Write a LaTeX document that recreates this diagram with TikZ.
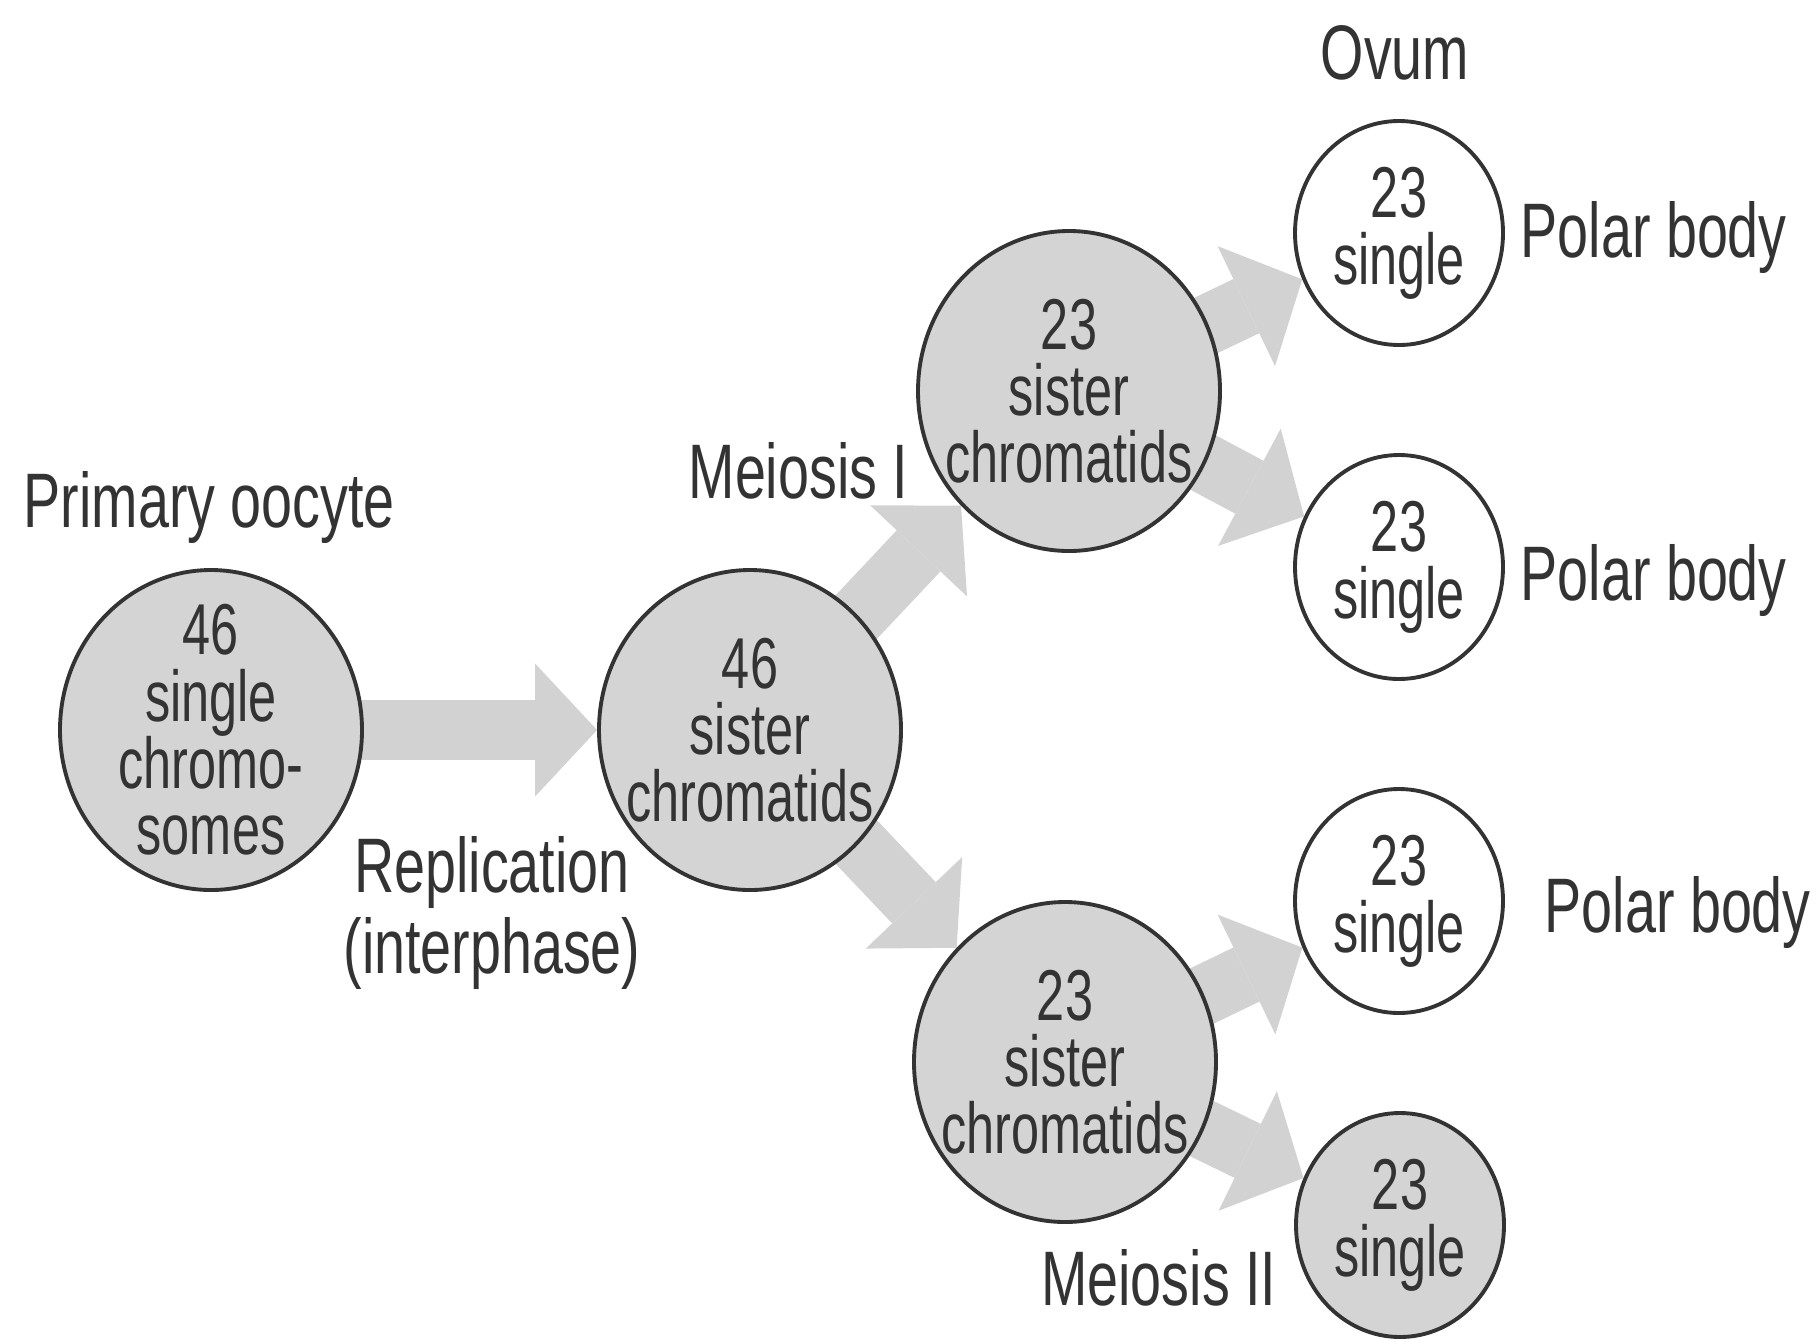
\documentclass[tikz,border=0pt]{standalone}
\usepackage{fontspec}
\usepackage{xcolor}
\usepackage{tikz}
\usetikzlibrary{arrows.meta,positioning,shapes.geometric,backgrounds}

\newfontfamily\cellfont[FakeStretch=0.7]{Liberation Sans}
\newfontfamily\labelfont[FakeStretch=0.72]{Liberation Sans}
\definecolor{cellgray}{HTML}{D4D4D4}
\definecolor{arrowgray}{HTML}{D2D2D2}
\definecolor{inkgray}{HTML}{333333}
\lineskiplimit=-30pt

\begin{document}
\begin{tikzpicture}[x=1cm,y=1cm,
    cell/.style={ellipse,draw=inkgray,line width=1.1pt,fill=cellgray,
      minimum width=3.02cm,minimum height=3.2cm,inner sep=-0.6cm,
      align=center,text=inkgray,font={\cellfont\fontsize{20.5}{19}\selectfont}},
    smallcell/.style={cell,minimum width=2.08cm,minimum height=2.24cm},
    lbl/.style={text=inkgray,inner sep=0pt,font={\labelfont\fontsize{22}{23}\selectfont}},
    blockarrow/.style={draw=arrowgray,line width=0.6cm,
      -{Triangle[width=1.33cm,length=0.62cm,line width=0pt]}}]
  \useasboundingbox (0,0) rectangle (18.16,-13.39);
  % cells before and after replication
  \node[cell] (oocyte) at (2.11,-7.30) {46\\single\\chromo-\\somes};
  \node[cell] (replicated) at (7.50,-7.30) {46\\sister\\chromatids};
  % meiosis I products
  \node[cell] (upper) at (10.69,-3.91) {23\\sister\\chromatids};
  \node[cell] (lower) at (10.65,-10.62) {23\\sister\\chromatids};
  % meiosis II products
  \foreach \i/\y in {1/-2.33,2/-5.67,3/-9.01}
    \node[smallcell,fill=white] (single\i) at (13.99,\y) {23\\single};
  \node[smallcell] (single4) at (14.00,-12.25) {23\\single};
  % arrows behind the cells
  \begin{scope}[on background layer]
    \draw[blockarrow] (oocyte.center) -- (replicated);
    \draw[blockarrow] (replicated.center) -- (upper);
    \draw[blockarrow] (replicated.center) -- (lower);
    \draw[blockarrow] (upper.center) -- (single1);
    \draw[blockarrow] (upper.center) -- (single2);
    \draw[blockarrow] (lower.center) -- (single3);
    \draw[blockarrow] (lower.center) -- (single4);
  \end{scope}
  % labels
  \node[lbl,anchor=base west] (primary) at (0.23,-5.27) {Primary oocyte};
  \node[lbl,anchor=base] (replication) at (4.92,-8.92) {Replication};
  \node[lbl,anchor=base] (interphase) at (4.92,-9.73) {(interphase)};
  \node[lbl,anchor=base east] (meiosisI) at (9.09,-4.98) {Meiosis I};
  \node[lbl,anchor=base east] (meiosisII) at (12.77,-13.05) {Meiosis II};
  \node[lbl,anchor=base] (ovum) at (13.95,-0.79) {Ovum};
  \foreach \i/\x/\y in {1/15.20/-2.57,2/15.20/-6.00,3/15.44/-9.32}
    \node[lbl,anchor=base west] (polar\i) at (\x,\y) {Polar body};
\end{tikzpicture}
\end{document}
